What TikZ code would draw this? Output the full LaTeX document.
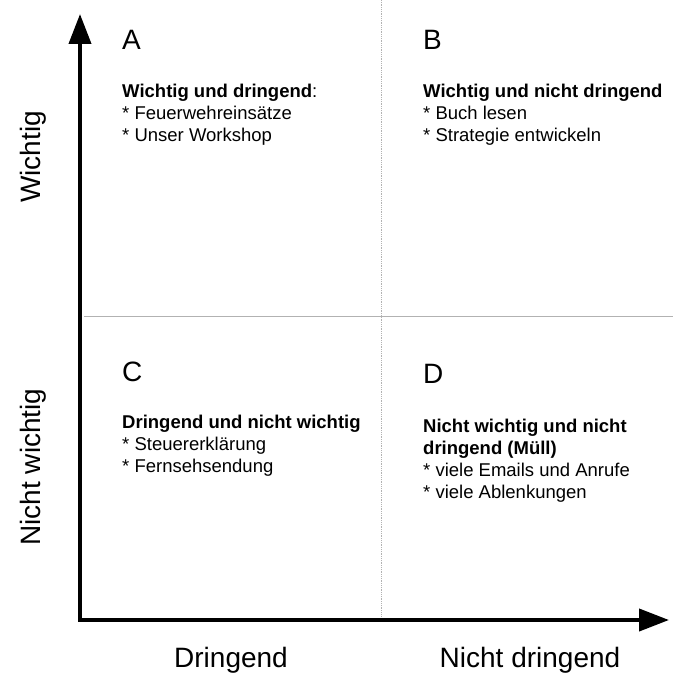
\documentclass[tikz,border=0pt]{standalone}
\usepackage{fontspec}
\setmainfont{Liberation Sans}
\usetikzlibrary{arrows.meta}
\usetikzlibrary{positioning}

\tikzset{
  letter/.style={anchor=base west, inner sep=0pt, font=\fontsize{28}{28}\selectfont},
  entry/.style={anchor=base west, inner sep=0pt, align=left,
    font=\fontsize{18.5}{22}\selectfont},
  axislabel/.style={inner sep=0pt, font=\fontsize{28}{28}\selectfont},
  divider/.style={draw=black!30, line width=0.8pt},
}

\begin{document}
\begin{tikzpicture}[%
  >={Triangle[length=30pt, width=22pt]},
  x=1pt, y=-1pt,
]

  \useasboundingbox (0,0) rectangle (673,682);

  \coordinate (origin) at (80,620);
  \coordinate (ytip) at (80,14);
  \coordinate (xtip) at (669,620);

  % Trennlinien der Quadranten
  \coordinate (hl) at (84,316);
  \coordinate (hr) at (673,316);
  \coordinate (vt) at (381,0);
  \coordinate (vb) at (381,616);
  \draw[divider] (hl) -- (hr);
  \draw[divider, densely dotted] (vt) -- (vb);

  % Achsen
  \draw[->, line width=4pt] (origin) -- (ytip);
  \draw[->, line width=4pt] ([xshift=-2pt]origin) -- (xtip);

  \node[axislabel, rotate=90] (wichtig) at (33,157) {Wichtig};
  \node[axislabel, rotate=90] (nwichtig) at (33,467) {Nicht wichtig};
  \node[axislabel] (dringend) at (231,660) {Dringend};
  \node[axislabel] (ndringend) at (530,660) {Nicht dringend};

  % Quadrant A
  \node[letter] (labA) at (122,50) {A};
  \node[entry] (textA) at (122,142) {\textbf{Wichtig und dringend}:\\
    * Feuerwehreinsätze\\
    * Unser Workshop};

  % Quadrant B
  \node[letter] (labB) at (423,50) {B};
  \node[entry] (textB) at (423,142) {\textbf{Wichtig und nicht dringend}\\
    * Buch lesen\\
    * Strategie entwickeln};

  % Quadrant C
  \node[letter] (labC) at (122,381) {C};
  \node[entry] (textC) at (122,472) {\textbf{Dringend und nicht wichtig}\\
    * Steuererklärung\\
    * Fernsehsendung};

  % Quadrant D
  \node[letter] (labD) at (423,383) {D};
  \node[entry] (textD) at (423,498) {\textbf{Nicht wichtig und nicht}\\
    \textbf{dringend (Müll)}\\
    * viele Emails und Anrufe\\
    * viele Ablenkungen};

\end{tikzpicture}
\end{document}
